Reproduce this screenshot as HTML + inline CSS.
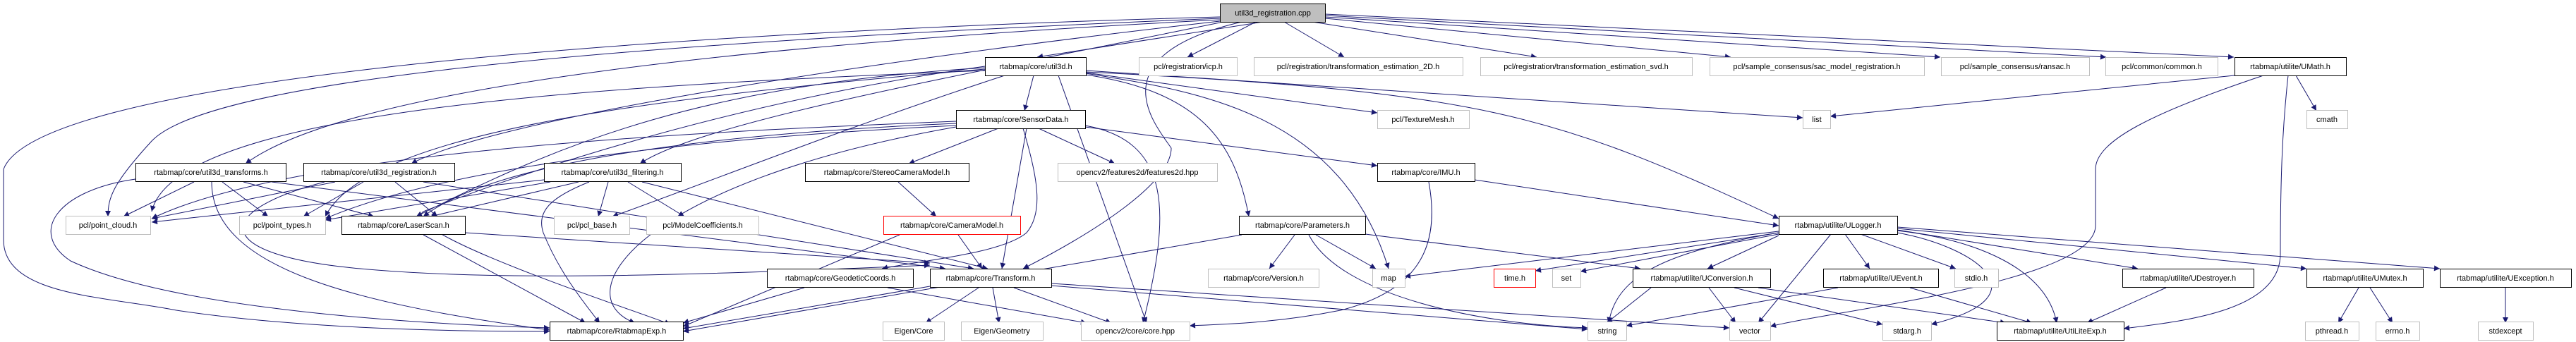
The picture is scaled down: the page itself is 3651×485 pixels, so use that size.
<!DOCTYPE html>
<html><head><meta charset="utf-8"><style>
html,body{margin:0;padding:0;background:#fff;}
svg{display:block;}
text{font-family:"Liberation Sans",sans-serif;font-size:11px;fill:#000;}
</style></head><body>
<svg width="3651" height="485" viewBox="0 0 3651 485" xmlns="http://www.w3.org/2000/svg">
<defs><marker id="a" viewBox="0 0 10 10" refX="10" refY="5" markerWidth="10" markerHeight="8" markerUnits="userSpaceOnUse" orient="auto"><path d="M0,0 L10,5 L0,10 z" fill="#191970"/></marker></defs>
<g stroke="#191970" stroke-width="1" fill="none" marker-end="url(#a)">
<!-- from cpp -->
<line x1="1790" y1="31" x2="1470" y2="81"/>
<line x1="1780" y1="31" x2="1683" y2="81"/>
<line x1="1820" y1="31" x2="1905" y2="81"/>
<line x1="1860" y1="31" x2="2178" y2="81"/>
<line x1="1878" y1="26" x2="2453" y2="81"/>
<line x1="1878" y1="24" x2="2750" y2="81"/>
<line x1="1878" y1="22" x2="2985" y2="81"/>
<line x1="1878" y1="20" x2="3166" y2="81"/>
<path d="M1729,28 C1100,60 500,120 348,232"/>
<path d="M1729,30 C1200,90 700,170 583,232"/>
<path d="M1729,32 C1400,100 1000,170 907,232"/>
<path d="M1729,26 C900,60 300,110 215,200 C160,260 153,280 153,307"/>
<path d="M1729,24 C800,50 50,120 5,240 L5,340 C5,420 150,420 250,440 C450,470 700,470 779,470"/>
<path d="M1760,31 C1550,80 1640,180 1660,210 C1660,260 1550,330 1450,381"/>
<!-- util3d -->
<line x1="1465" y1="107" x2="1452" y2="157"/>
<path d="M1396,100 C900,120 250,150 215,300"/>
<path d="M1396,98 C900,140 520,190 461,307"/>
<path d="M1424,107 C1200,180 1000,260 868,307"/>
<path d="M1396,96 C1000,120 800,200 590,307"/>
<path d="M1396,94 C1000,150 700,260 600,300 C560,330 900,440 950,460"/>
<path d="M1539,106 C1700,130 1750,200 1770,307"/>
<path d="M1539,104 C1700,130 1900,160 1968,381"/>
<line x1="1539" y1="103" x2="1952" y2="160"/>
<line x1="1539" y1="100" x2="2555" y2="167"/>
<path d="M1539,102 C2100,130 2200,160 2521,310"/>
<line x1="1500" y1="107" x2="1625" y2="458"/>
<!-- SensorData -->
<line x1="1415" y1="182" x2="1288" y2="232"/>
<line x1="1472" y1="182" x2="1580" y2="232"/>
<line x1="1538" y1="180" x2="1952" y2="235"/>
<line x1="1455" y1="182" x2="1420" y2="381"/>
<path d="M1450,182 C1470,250 1480,300 1455,330 C1420,360 1300,370 1250,381"/>
<path d="M1355,175 C1000,190 700,230 600,307"/>
<path d="M1355,178 C900,200 600,250 461,310"/>
<path d="M1355,172 C900,190 400,220 215,310"/>
<path d="M1538,178 C1660,200 1660,300 1620,458"/>
<path d="M1355,180 C900,260 800,420 900,458"/>
<!-- util3d_transforms -->
<line x1="275" y1="258" x2="175" y2="307"/>
<line x1="315" y1="258" x2="380" y2="307"/>
<line x1="345" y1="258" x2="530" y2="307"/>
<line x1="385" y1="258" x2="1340" y2="381"/>
<path d="M192,254 C80,270 40,330 100,370 C250,440 600,460 779,465"/>
<path d="M300,258 C300,380 500,430 779,468"/>
<!-- util3d_registration -->
<line x1="475" y1="258" x2="215" y2="310"/>
<line x1="515" y1="258" x2="430" y2="307"/>
<line x1="560" y1="258" x2="620" y2="307"/>
<line x1="600" y1="258" x2="1380" y2="381"/>
<path d="M460,258 C300,300 300,360 500,380 C700,400 1000,390 1318,376"/>
<!-- filtering -->
<line x1="771" y1="255" x2="215" y2="315"/>
<line x1="780" y1="258" x2="461" y2="312"/>
<line x1="820" y1="258" x2="610" y2="307"/>
<line x1="862" y1="258" x2="848" y2="307"/>
<line x1="890" y1="258" x2="970" y2="307"/>
<path d="M835,258 C780,280 760,300 770,330 C790,380 820,420 850,458"/>
<line x1="910" y1="258" x2="1400" y2="381"/>
<!-- LaserScan -->
<line x1="600" y1="333" x2="830" y2="458"/>
<line x1="659" y1="330" x2="1318" y2="373"/>
<!-- Stereo, Camera -->
<line x1="1273" y1="258" x2="1327" y2="307"/>
<line x1="1358" y1="333" x2="1392" y2="381"/>
<line x1="1275" y1="333" x2="968" y2="463"/>
<!-- IMU -->
<path d="M2025,258 C2040,340 2020,410 1900,440 C1800,460 1720,460 1686,462"/>
<line x1="2090" y1="255" x2="2521" y2="320"/>
<!-- Parameters -->
<line x1="1835" y1="333" x2="1799" y2="381"/>
<line x1="1865" y1="333" x2="1950" y2="381"/>
<path d="M1855,333 C1900,420 2100,460 2250,465"/>
<line x1="1935" y1="332" x2="2325" y2="381"/>
<line x1="1760" y1="333" x2="968" y2="470"/>
<!-- Geodetic -->
<line x1="1140" y1="408" x2="968" y2="458"/>
<line x1="1258" y1="408" x2="1540" y2="458"/>
<!-- Transform -->
<line x1="1387" y1="408" x2="1312" y2="458"/>
<line x1="1407" y1="408" x2="1416" y2="458"/>
<line x1="1437" y1="408" x2="1575" y2="458"/>
<line x1="1318" y1="406" x2="968" y2="466"/>
<line x1="1490" y1="402" x2="2451" y2="465"/>
<line x1="1490" y1="405" x2="2250" y2="467"/>
<!-- ULogger -->
<line x1="2521" y1="328" x2="1991" y2="392"/>
<line x1="2521" y1="330" x2="2176" y2="384"/>
<line x1="2521" y1="332" x2="2240" y2="385"/>
<path d="M2521,330 C2340,360 2290,400 2280,458"/>
<line x1="2595" y1="332" x2="2492" y2="458"/>
<line x1="2615" y1="332" x2="2650" y2="381"/>
<line x1="2637" y1="332" x2="2772" y2="381"/>
<path d="M2689,330 C2800,350 2900,420 2737,460"/>
<path d="M2689,327 C2800,340 2900,380 2915,458"/>
<line x1="2689" y1="326" x2="3030" y2="381"/>
<line x1="2689" y1="324" x2="3269" y2="381"/>
<line x1="2689" y1="322" x2="3458" y2="381"/>
<line x1="2521" y1="334" x2="2420" y2="381"/>
<!-- UConversion -->
<line x1="2340" y1="408" x2="2277" y2="458"/>
<line x1="2422" y1="408" x2="2460" y2="458"/>
<line x1="2458" y1="408" x2="2668" y2="460"/>
<line x1="2492" y1="408" x2="2843" y2="458"/>
<!-- UEvent -->
<line x1="2605" y1="408" x2="2305" y2="462"/>
<line x1="2707" y1="408" x2="2880" y2="458"/>
<!-- UDestroyer -->
<line x1="3070" y1="408" x2="2958" y2="458"/>
<!-- UMutex, UException -->
<line x1="3343" y1="408" x2="3314" y2="458"/>
<line x1="3359" y1="408" x2="3391" y2="458"/>
<line x1="3551" y1="408" x2="3551" y2="458"/>
<!-- UMath -->
<line x1="3167" y1="107" x2="2594" y2="165"/>
<line x1="3254" y1="107" x2="3283" y2="157"/>
<path d="M3208,107 C3050,160 2970,200 2970,240 L2970,320 C2970,400 2600,440 2509,463"/>
<path d="M3243,107 C3235,180 3232,250 3232,360 C3232,440 3100,455 3010,466"/>
</g>
<g stroke-width="1">
<rect x="1729.5" y="5.5" width="149" height="26" fill="#bfbfbf" stroke="#000"/>
<g fill="#fff" stroke="#bfbfbf">
<rect x="1614.5" y="81.5" width="139" height="26"/><rect x="1777.5" y="81.5" width="296" height="26"/>
<rect x="2098.5" y="81.5" width="300" height="26"/><rect x="2423.5" y="81.5" width="304" height="26"/>
<rect x="2751.5" y="81.5" width="210" height="26"/><rect x="2984.5" y="81.5" width="159" height="26"/>
<rect x="1952.5" y="156.5" width="130" height="26"/><rect x="2555.5" y="156.5" width="39" height="26"/>
<rect x="3269.5" y="156.5" width="58" height="26"/><rect x="1499.5" y="231.5" width="226" height="26"/>
<rect x="93.5" y="306.5" width="120" height="26"/><rect x="339.5" y="306.5" width="122" height="26"/>
<rect x="785.5" y="306.5" width="107" height="26"/><rect x="916.5" y="306.5" width="159" height="26"/>
<rect x="1712.5" y="381.5" width="157" height="26"/><rect x="1945.5" y="381.5" width="46" height="26"/>
<rect x="2200.5" y="381.5" width="40" height="26"/><rect x="2770.5" y="381.5" width="62" height="26"/>
<rect x="1251.5" y="456.5" width="87" height="26"/><rect x="1362.5" y="456.5" width="116" height="26"/>
<rect x="1532.5" y="456.5" width="154" height="26"/><rect x="2250.5" y="456.5" width="55" height="26"/>
<rect x="2451.5" y="456.5" width="58" height="26"/><rect x="2668.5" y="456.5" width="69" height="26"/>
<rect x="3267.5" y="456.5" width="76" height="26"/><rect x="3367.5" y="456.5" width="62" height="26"/>
<rect x="3512.5" y="456.5" width="78" height="26"/>
</g>
<g fill="#fff" stroke="#000">
<rect x="1396.5" y="81.5" width="143" height="26"/><rect x="3167.5" y="81.5" width="158" height="26"/>
<rect x="1355.5" y="156.5" width="183" height="26"/>
<rect x="192.5" y="231.5" width="213" height="26"/><rect x="430.5" y="231.5" width="214" height="26"/>
<rect x="771.5" y="231.5" width="194" height="26"/><rect x="1141.5" y="231.5" width="232" height="26"/>
<rect x="1952.5" y="231.5" width="138" height="26"/>
<rect x="484.5" y="306.5" width="175" height="26"/><rect x="1756.5" y="306.5" width="179" height="26"/>
<rect x="2521.5" y="306.5" width="168" height="26"/>
<rect x="1087.5" y="381.5" width="207" height="26"/><rect x="1318.5" y="381.5" width="172" height="26"/>
<rect x="2314.5" y="381.5" width="195" height="26"/><rect x="2584.5" y="381.5" width="163" height="26"/>
<rect x="3008.5" y="381.5" width="186" height="26"/><rect x="3269.5" y="381.5" width="165" height="26"/>
<rect x="3458.5" y="381.5" width="186" height="26"/>
<rect x="779.5" y="456.5" width="189" height="26"/><rect x="2830.5" y="456.5" width="180" height="26"/>
</g>
<g fill="#fff" stroke="#ff0000">
<rect x="1252.5" y="306.5" width="194" height="26"/><rect x="2117.5" y="381.5" width="59" height="26"/>
</g>
</g>
<g text-anchor="middle">
<text x="1804" y="22">util3d_registration.cpp</text>
<text x="1468" y="98">rtabmap/core/util3d.h</text>
<text x="1684" y="98">pcl/registration/icp.h</text>
<text x="1925" y="98">pcl/registration/transformation_estimation_2D.h</text>
<text x="2248" y="98">pcl/registration/transformation_estimation_svd.h</text>
<text x="2575" y="98">pcl/sample_consensus/sac_model_registration.h</text>
<text x="2856" y="98">pcl/sample_consensus/ransac.h</text>
<text x="3064" y="98">pcl/common/common.h</text>
<text x="3246" y="98">rtabmap/utilite/UMath.h</text>
<text x="1447" y="173">rtabmap/core/SensorData.h</text>
<text x="2017" y="173">pcl/TextureMesh.h</text>
<text x="2575" y="173">list</text>
<text x="3298" y="173">cmath</text>
<text x="299" y="248">rtabmap/core/util3d_transforms.h</text>
<text x="537" y="248">rtabmap/core/util3d_registration.h</text>
<text x="868" y="248">rtabmap/core/util3d_filtering.h</text>
<text x="1257" y="248">rtabmap/core/StereoCameraModel.h</text>
<text x="1612" y="248">opencv2/features2d/features2d.hpp</text>
<text x="2021" y="248">rtabmap/core/IMU.h</text>
<text x="153" y="323">pcl/point_cloud.h</text>
<text x="400" y="323">pcl/point_types.h</text>
<text x="572" y="323">rtabmap/core/LaserScan.h</text>
<text x="839" y="323">pcl/pcl_base.h</text>
<text x="996" y="323">pcl/ModelCoefficients.h</text>
<text x="1349" y="323">rtabmap/core/CameraModel.h</text>
<text x="1846" y="323">rtabmap/core/Parameters.h</text>
<text x="2605" y="323">rtabmap/utilite/ULogger.h</text>
<text x="1191" y="398">rtabmap/core/GeodeticCoords.h</text>
<text x="1404" y="398">rtabmap/core/Transform.h</text>
<text x="1791" y="398">rtabmap/core/Version.h</text>
<text x="1968" y="398">map</text>
<text x="2147" y="398">time.h</text>
<text x="2220" y="398">set</text>
<text x="2412" y="398">rtabmap/utilite/UConversion.h</text>
<text x="2666" y="398">rtabmap/utilite/UEvent.h</text>
<text x="2801" y="398">stdio.h</text>
<text x="3101" y="398">rtabmap/utilite/UDestroyer.h</text>
<text x="3352" y="398">rtabmap/utilite/UMutex.h</text>
<text x="3551" y="398">rtabmap/utilite/UException.h</text>
<text x="874" y="473">rtabmap/core/RtabmapExp.h</text>
<text x="1295" y="473">Eigen/Core</text>
<text x="1420" y="473">Eigen/Geometry</text>
<text x="1609" y="473">opencv2/core/core.hpp</text>
<text x="2278" y="473">string</text>
<text x="2480" y="473">vector</text>
<text x="2703" y="473">stdarg.h</text>
<text x="2920" y="473">rtabmap/utilite/UtiLiteExp.h</text>
<text x="3305" y="473">pthread.h</text>
<text x="3398" y="473">errno.h</text>
<text x="3551" y="473">stdexcept</text>
</g>
</svg>
</body></html>
